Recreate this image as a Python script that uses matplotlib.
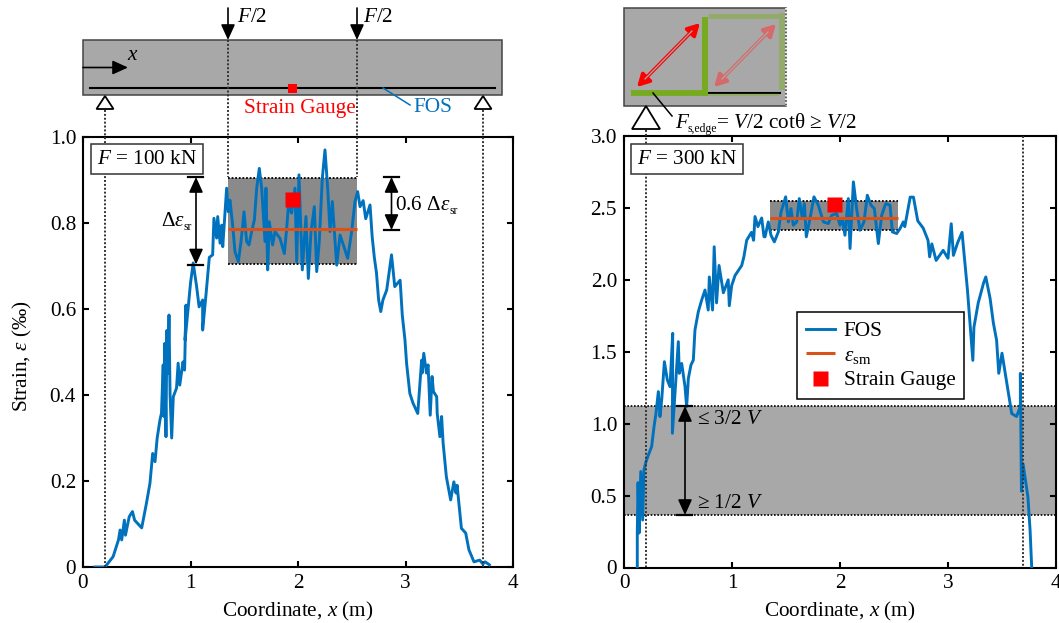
import matplotlib
matplotlib.use("Agg")
import matplotlib.pyplot as plt
from matplotlib.patches import Rectangle, Polygon

plt.rcParams['font.family'] = ['Liberation Serif', 'DejaVu Serif']
plt.rcParams['mathtext.fontset'] = 'custom'
plt.rcParams['mathtext.rm'] = 'Liberation Serif'
plt.rcParams['mathtext.it'] = 'Liberation Serif:italic'
plt.rcParams['mathtext.bf'] = 'Liberation Serif:bold'

BLUE = '#0072bd'
ORANGE = '#d95319'
FS = 15.3
SUB = 8.5

# F = 100 kN
x100 = [0.11, 0.205, 0.28, 0.33, 0.345, 0.36, 0.385, 0.395, 0.43, 0.46, 0.48, 0.546, 0.59, 0.623, 0.648,
        0.67, 0.69, 0.716, 0.73, 0.746, 0.752, 0.76, 0.772, 0.78, 0.79, 0.80, 0.81, 0.825, 0.84, 0.87,
        0.885, 0.90, 0.93, 0.945, 0.958, 0.95, 1.0, 1.025, 1.057, 1.08, 1.113, 1.113, 1.144, 1.175, 1.206,
        1.218, 1.243, 1.253, 1.275, 1.29, 1.30,
        1.336, 1.352, 1.367, 1.389, 1.414, 1.445, 1.470, 1.498, 1.522, 1.544, 1.569, 1.594, 1.616, 1.640,
        1.662, 1.678, 1.693, 1.702, 1.718, 1.733, 1.764, 1.786, 1.833, 1.873, 1.895, 1.910, 1.941, 1.972,
        1.988, 2.009, 2.040, 2.074, 2.096, 2.121, 2.152, 2.174, 2.198, 2.226, 2.251, 2.276, 2.298, 2.319,
        2.360, 2.391, 2.422, 2.462, 2.499, 2.530, 2.555, 2.577,
        2.606, 2.63, 2.67, 2.69, 2.71, 2.73, 2.75, 2.77, 2.79, 2.825, 2.87, 2.90, 2.95, 2.97, 2.995,
        3.01, 3.04, 3.07, 3.114, 3.15, 3.155, 3.17, 3.195, 3.21, 3.23, 3.247, 3.26, 3.29, 3.295, 3.32,
        3.336, 3.35, 3.38, 3.42, 3.45, 3.47, 3.48, 3.52, 3.56, 3.59, 3.637, 3.69, 3.72, 3.74, 3.77, 3.78]
y100 = [0.0, 0.0, 0.024, 0.063, 0.086, 0.063, 0.109, 0.074, 0.117, 0.129, 0.109, 0.091, 0.148, 0.195, 0.264,
        0.245, 0.30, 0.342, 0.358, 0.47, 0.35, 0.52, 0.303, 0.55, 0.45, 0.586, 0.40, 0.30, 0.396, 0.416,
        0.474, 0.423, 0.477, 0.458, 0.609, 0.528, 0.66, 0.707, 0.652, 0.605, 0.621, 0.551, 0.633, 0.72, 0.726,
        0.811, 0.765, 0.815, 0.753, 0.795, 0.745,
        0.881, 0.826, 0.853, 0.803, 0.733, 0.710, 0.757, 0.826, 0.757, 0.749, 0.780, 0.807, 0.881, 0.927,
        0.881, 0.819, 0.757, 0.881, 0.691, 0.803, 0.749, 0.780, 0.764, 0.729, 0.788, 0.838, 0.823, 0.881,
        0.710, 0.912, 0.691, 0.815, 0.671, 0.780, 0.838, 0.687, 0.757, 0.904, 0.970, 0.881, 0.780, 0.850,
        0.702, 0.772, 0.749, 0.718, 0.780, 0.850, 0.873, 0.838,
        0.852, 0.81, 0.842, 0.768, 0.72, 0.684, 0.621, 0.594, 0.621, 0.644, 0.726, 0.652, 0.667, 0.586, 0.528,
        0.474, 0.404, 0.381, 0.357, 0.481, 0.451, 0.497, 0.451, 0.47, 0.353, 0.443, 0.408, 0.396, 0.357, 0.303,
        0.35, 0.288, 0.21, 0.156, 0.198, 0.172, 0.19, 0.09, 0.079, 0.04, 0.012, 0.016, 0.007, 0.012, 0.007, 0.005]

# F = 300 kN
x300 = [0.123, 0.123, 0.13, 0.14, 0.155, 0.173, 0.185, 0.204, 0.225, 0.256, 0.278, 0.296, 0.318, 0.333, 0.349,
        0.374, 0.401, 0.426, 0.451, 0.448, 0.472, 0.503, 0.512, 0.534, 0.565, 0.580, 0.596, 0.620, 0.642, 0.657,
        0.688, 0.719, 0.75, 0.78, 0.79, 0.82, 0.835, 0.857, 0.88, 0.92, 0.965, 0.975, 0.997, 1.028, 1.09,
        1.11, 1.136, 1.18, 1.20, 1.213, 1.24, 1.275, 1.296,
        1.306, 1.336, 1.361, 1.392, 1.429, 1.454, 1.497, 1.522, 1.546, 1.568, 1.599, 1.623, 1.651, 1.670,
        1.688, 1.722, 1.759, 1.799, 1.846, 1.892, 1.923, 1.969, 2.000, 2.022, 2.046, 2.077, 2.093, 2.124,
        2.154, 2.185, 2.222, 2.253, 2.287, 2.318, 2.355, 2.386, 2.423, 2.463, 2.485, 2.525, 2.556, 2.586,
        2.60, 2.65, 2.68, 2.72, 2.77, 2.815, 2.83, 2.85, 2.89,
        2.955, 3.0, 3.03, 3.05, 3.09, 3.13, 3.16, 3.18, 3.23, 3.24, 3.28, 3.33, 3.35, 3.39, 3.42,
        3.45, 3.47, 3.50, 3.56, 3.59, 3.635, 3.67, 3.67, 3.68, 3.695, 3.74, 3.76, 3.775]
y300 = [0.0, 0.24, 0.59, 0.24, 0.667, 0.33, 0.68, 0.736, 0.78, 0.841, 0.979, 1.072, 1.223, 1.049, 1.165,
        1.431, 1.304, 1.257, 1.628, 0.933, 1.211, 1.570, 1.350, 1.419, 1.257, 1.118, 1.315, 1.408, 1.442, 1.651,
        1.778, 1.859, 1.929, 1.79, 2.02, 1.79, 2.23, 1.84, 2.10, 1.91, 2.0, 1.82, 1.96, 2.03, 2.10,
        2.16, 2.275, 2.33, 2.275, 2.44, 2.37, 2.43, 2.30,
        2.299, 2.403, 2.310, 2.264, 2.333, 2.472, 2.577, 2.403, 2.495, 2.380, 2.403, 2.565, 2.426, 2.530,
        2.299, 2.426, 2.577, 2.519, 2.403, 2.391, 2.449, 2.461, 2.380, 2.426, 2.310, 2.565, 2.218, 2.681,
        2.495, 2.345, 2.403, 2.588, 2.519, 2.495, 2.252, 2.449, 2.530, 2.519, 2.333, 2.322, 2.356, 2.403,
        2.37, 2.575, 2.575, 2.41, 2.36, 2.275, 2.16, 2.25, 2.135,
        2.205, 2.15, 2.39, 2.17, 2.26, 2.33, 2.09, 1.93, 1.44, 1.67, 1.84, 1.98, 2.02, 1.87, 1.70,
        1.58, 1.35, 1.49, 1.21, 1.07, 1.05, 1.12, 1.35, 0.53, 0.72, 0.49, 0.26, 0.0]

gauge_x = [1.946, 1.944]
gauge_y = [0.856, 2.53]
sm_mean = [0.787, 2.43]
band_x = [(1.35, 2.55), (1.35, 2.54)]
band_y = [(0.705, 0.905), (2.345, 2.55)]
shear_band = (0.368, 1.125)
xticks = [0, 1, 2, 3, 4]
yticks_l = [0, 0.2, 0.4, 0.6, 0.8, 1.0]
yticks_r = [0, 0.5, 1.0, 1.5, 2.0, 2.5, 3.0]

W, H = 1059, 623
fig = plt.figure(figsize=(W / 100, H / 100), dpi=100)


def make_axes(x0, x1, y0, y1):
    ax = fig.add_axes([x0 / W, 1 - y1 / H, (x1 - x0) / W, (y1 - y0) / H])
    for s in ax.spines.values():
        s.set_linewidth(1.5)
    ax.tick_params(direction='in', top=True, right=True, length=4, width=1.5, labelsize=FS, pad=5)
    ax.set_xlim(0, 4)
    ax.set_xticks(xticks)
    ax.set_xlabel('Coordinate, $x$ (m)', fontsize=FS, labelpad=5)
    return ax


ax1 = make_axes(83, 513, 137, 567)
ax1.set_ylim(0, 1)
ax1.set_yticks(yticks_l)
ax1.set_yticklabels(['0', '0.2', '0.4', '0.6', '0.8', '1.0'])
ax1.set_ylabel(r'Strain, $\varepsilon$ (‰)', fontsize=FS)
ax1.yaxis.set_label_coords(-0.114, 0.49)

ax1.add_patch(Rectangle((band_x[0][0], band_y[0][0]), band_x[0][1] - band_x[0][0], band_y[0][1] - band_y[0][0],
                        fc='#8a8a8a', ec='none', zorder=1))
ax1.hlines(band_y[0], band_x[0][0], band_x[0][1], colors='k', lw=1.3, linestyles=(0, (1, 1)), zorder=2)
ax1.plot(x100, y100, color=BLUE, lw=2.1, zorder=3)
ax1.plot(band_x[0], [sm_mean[0]] * 2, color=ORANGE, lw=2.2, zorder=4, solid_capstyle='butt')
ax1.plot(gauge_x[0], gauge_y[0], 's', color='#ff0000', ms=10.8, mec='none', zorder=5)

ax2 = make_axes(624, 1056, 136, 567.5)
ax2.set_ylim(0, 3)
ax2.set_yticks(yticks_r)
ax2.set_yticklabels(['0', '0.5', '1.0', '1.5', '2.0', '2.5', '3.0'])

ax2.axhspan(shear_band[0], shear_band[1], fc='#a8a8a8', ec='none', zorder=1)
ax2.hlines(shear_band, 0, 4, colors='k', lw=1.2, linestyles=(0, (1, 1)), zorder=2)
ax2.add_patch(Rectangle((band_x[1][0], band_y[1][0]), band_x[1][1] - band_x[1][0], band_y[1][1] - band_y[1][0],
                        fc='#8a8a8a', ec='none', zorder=1))
ax2.hlines(band_y[1], band_x[1][0], band_x[1][1], colors='k', lw=1.3, linestyles=(0, (1, 1)), zorder=2)
ax2.plot(x300, y300, color=BLUE, lw=2.1, zorder=3, label='FOS')
ax2.plot(band_x[1], [sm_mean[1]] * 2, color=ORANGE, lw=2.2, zorder=4, label=r'$\varepsilon_{\mathrm{sm}}$',
         solid_capstyle='butt')
ax2.plot(gauge_x[1], gauge_y[1], 's', color='#ff0000', ms=10.8, mec='none', zorder=5, label='Strain Gauge')

leg = ax2.legend(loc='lower left', bbox_to_anchor=((797 - 624) / 432, (567.5 - 399) / 431.5),
                 fontsize=FS, fancybox=False, framealpha=1, edgecolor='k',
                 borderaxespad=0, handlelength=1.37, labelspacing=0.22, borderpad=0.42, handletextpad=0.4)
leg.get_frame().set_linewidth(1.1)
leg.set_zorder(6)

# schematic layer in pixel coordinates
ov = fig.add_axes([0, 0, 1, 1], facecolor='none', zorder=10)
ov.set_xlim(0, W)
ov.set_ylim(H, 0)
ov.axis('off')
DOT = dict(color='#333333', lw=1.4, linestyle=(0, (1, 1)))
HEAD = '-|>,head_length=0.55,head_width=0.25'
BOTH = '<|-|>,head_length=0.55,head_width=0.25'


def arrow(x0, y0, x1, y1, style=HEAD, color='k', lw=1.2, scale=17):
    ov.annotate('', xy=(x1, y1), xytext=(x0, y0),
                arrowprops=dict(arrowstyle=style, color=color, lw=lw, mutation_scale=scale,
                                shrinkA=0, shrinkB=0))


def tri(xc, ytop, w, h):
    ov.add_patch(Polygon([(xc, ytop), (xc - w / 2, ytop + h), (xc + w / 2, ytop + h)],
                         fc='white', ec='k', lw=1.3))


# left beam
ov.add_patch(Rectangle((83, 40), 419, 55, fc='#a8a8a8', ec='#444444', lw=1.1))
ov.plot([90, 495], [87.7, 87.7], color='k', lw=1.5)
ov.add_patch(Rectangle((288, 83.5), 9, 9, fc='#ff0000', ec='none', zorder=5))
arrow(83, 67.5, 128, 67.5)
ov.text(133, 55, '$x$', fontsize=FS, ha='center', va='center')
arrow(228, 8, 228, 40)
arrow(357, 8, 357, 40)
ov.text(237, 17, '$F$/2', fontsize=FS, ha='left', va='center')
ov.text(363, 17, '$F$/2', fontsize=FS, ha='left', va='center')
ov.text(300, 108, 'Strain Gauge', color='#ff0000', fontsize=FS, ha='center', va='center')
ov.text(433, 108, 'FOS', color=BLUE, fontsize=FS, ha='center', va='center')
ov.plot([383, 410], [88, 105], color=BLUE, lw=1.1)
tri(105, 96, 17, 13)
tri(483, 96, 17, 13)
ov.plot([105, 105], [110, 567], **DOT)
ov.plot([483, 483], [110, 567], **DOT)
ov.plot([228, 228], [40, 177], **DOT)
ov.plot([357, 357], [40, 177], **DOT)

ov.text(147, 159, '$F$ = 100 kN', fontsize=FS, ha='center', va='center',
        bbox=dict(fc='white', ec='#333333', lw=1.1, boxstyle='square,pad=0.28'))
ov.plot([188, 203], [177, 177], color='k', lw=1.6)
ov.plot([188, 203], [264.5, 264.5], color='k', lw=1.6)
arrow(196, 177, 196, 264.5, style=BOTH)
ov.text(161, 226, r'$\Delta\varepsilon$', fontsize=FS, ha='left', va='baseline')
ov.text(184, 229.5, 'sr', fontsize=SUB, ha='left', va='baseline')
ov.plot([384, 399], [177, 177], color='k', lw=1.6)
ov.plot([384, 399], [230, 230], color='k', lw=1.6)
arrow(391.5, 177, 391.5, 230, style=BOTH)
ov.text(395, 210, r'0.6 $\Delta\varepsilon$', fontsize=FS, ha='left', va='baseline')
ov.text(449, 214, 'sr', fontsize=SUB, ha='left', va='baseline')

# right beam detail
GREEN = '#76ab20'
PALE = '#93ab6a'
ov.add_patch(Rectangle((623.5, 8), 162, 98, fc='#a8a8a8', ec='#444444', lw=1.1))
ov.plot([786, 786], [8, 106], color='white', lw=1.3, linestyle=(0, (1, 1)))
ov.plot([703, 781], [92.7, 92.7], color='k', lw=1.5, solid_capstyle='butt')
ov.plot([708, 779], [94.5, 94.5], color=PALE, lw=1.6, solid_capstyle='butt')
ov.plot([708, 779], [15.5, 15.5], color=PALE, lw=3.6, solid_capstyle='butt')
ov.plot([782, 782], [13, 90], color=PALE, lw=4.2, solid_capstyle='butt')
ov.plot([631, 703], [93, 93], color=GREEN, lw=4.2, solid_capstyle='butt')
ov.plot([705, 705], [17, 96], color=GREEN, lw=4.3, solid_capstyle='butt')
DBL = '<|-|>,head_length=0.55,head_width=0.3'
arrow(637, 87, 700, 23, style=DBL, color='#ff0000', lw=2.6, scale=13)
ov.plot([645, 692], [79, 31], color='#a8a8a8', lw=0.9, zorder=5)
arrow(714, 87, 776, 24, style=DBL, color='#d66a6a', lw=2.6, scale=13)
ov.plot([722, 768], [79, 32], color='#a8a8a8', lw=0.9, zorder=5)
tri(646, 106, 28, 23)
ov.plot([653, 672], [93, 116], color='k', lw=1.1)
ov.text(675, 128, '$F$', fontsize=FS, ha='left', va='baseline')
ov.text(688, 132, 's,edge', fontsize=SUB, ha='left', va='baseline')
ov.text(716, 128, '= $V$/2 cotθ ≥ $V$/2', fontsize=FS, ha='left', va='baseline')
ov.plot([646, 646], [130, 567], **DOT)
ov.plot([1023, 1023], [136, 567], **DOT)

ov.text(687, 159, '$F$ = 300 kN', fontsize=FS, ha='center', va='center',
        bbox=dict(fc='white', ec='#333333', lw=1.1, boxstyle='square,pad=0.28'))
ov.plot([677, 692], [406, 406], color='k', lw=1.6)
ov.plot([677, 692], [515, 515], color='k', lw=1.6)
arrow(685, 406, 685, 515, style=BOTH)
ov.text(697, 420, '≤ 3/2 $V$', fontsize=FS, ha='left', va='center')
ov.text(697, 503, '≥ 1/2 $V$', fontsize=FS, ha='left', va='center')

fig.savefig('out.png', dpi=100)
